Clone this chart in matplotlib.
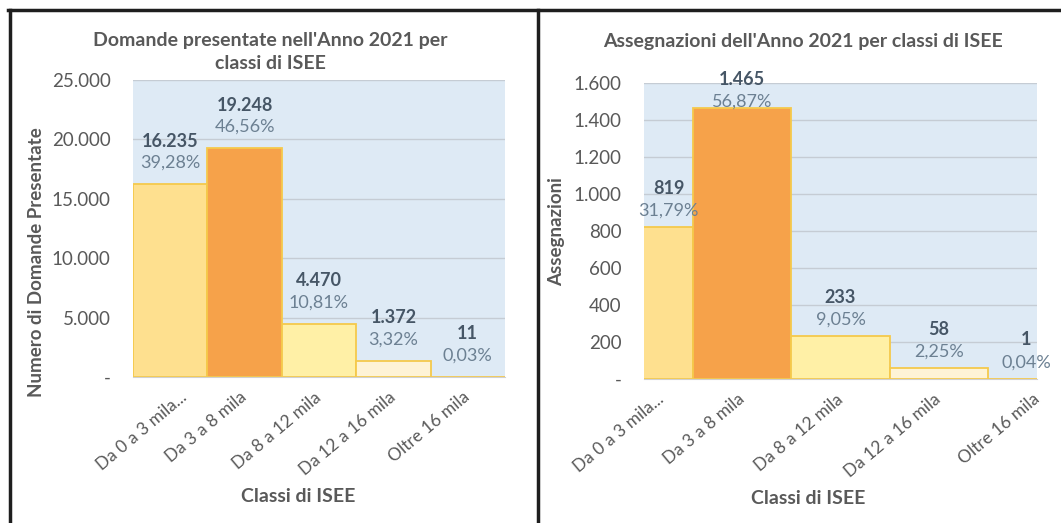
#!/usr/bin/env python3
"""
Domande e assegnazioni 2021 per classi di ISEE - due istogrammi affiancati
"""

import matplotlib
matplotlib.use("Agg")
import matplotlib.pyplot as plt
from matplotlib.lines import Line2D
import matplotlib.transforms as mtransforms

# --- data -------------------------------------------------------------
classes = ["Da 0 a 3 mila...", "Da 3 a 8 mila", "Da 8 a 12 mila",
           "Da 12 a 16 mila", "Oltre 16 mila"]

domande = [16235, 19248, 4470, 1372, 11]
domande_pct = ["39,28%", "46,56%", "10,81%", "3,32%", "0,03%"]

assegnazioni = [819, 1465, 233, 58, 1]
assegnazioni_pct = ["31,79%", "56,87%", "9,05%", "2,25%", "0,04%"]

bar_colors = ["#FEE08F", "#F6A24A", "#FFF0A6", "#FEF3D6", "#FEF3D6"]
edge_color = "#F5C94C"

W, H = 1061, 523
GRAY = "#595959"
VAL_COLOR = "#465666"
PCT_COLOR = "#6C8092"

plt.rcParams['font.family'] = ['Lato', 'DejaVu Sans']


def fmt_it(v):
    if v == 0:
        return "-"
    return f"{int(v):,}".replace(",", ".")


def px_axes(fig, x0, x1, y_top, y_bot):
    return fig.add_axes([x0 / W, (H - y_bot) / H, (x1 - x0) / W, (y_bot - y_top) / H])


def draw_panel(ax, values, pcts, ymax, ystep, xlim, val_off, pct_off, clamp, last_dx):
    ax.set_facecolor("#DEEAF5")
    ax.set_axisbelow(True)
    xs = list(range(len(values)))
    ax.bar(xs, values, width=1.0, color=bar_colors, edgecolor=edge_color,
           linewidth=1.3, zorder=2)
    ax.set_xlim(*xlim)
    ax.set_ylim(0, ymax)
    ticks = list(range(0, ymax + 1, ystep))
    ax.set_yticks(ticks)
    ax.set_yticklabels([fmt_it(t) for t in ticks])
    ax.yaxis.grid(True, color="#C5CCD4", linewidth=1)
    for s in ["top", "right", "left"]:
        ax.spines[s].set_visible(False)
    ax.spines["bottom"].set_color("#D0D0D0")
    ax.tick_params(axis="both", length=0, colors=GRAY)
    ax.tick_params(axis="y", pad=16, labelsize=13.5)

    ax.set_xticks(xs)
    ax.set_xticklabels(classes, rotation=40, ha="right",
                       rotation_mode="anchor", va="center")
    ax.tick_params(axis="x", pad=13, labelsize=12.5)

    # data labels centred on the visible part of each bar
    for i, (v, p) in enumerate(zip(values, pcts)):
        lo = max(i - 0.5, xlim[0])
        hi = min(i + 0.5, xlim[1])
        lx = (lo + hi) / 2
        dx = last_dx if i == len(values) - 1 else 0
        base = min(v, clamp * ymax)
        ax.annotate(fmt_it(v), (lx, base), xytext=(dx, val_off),
                    textcoords="offset points", ha="center", va="center",
                    fontsize=13, fontweight="bold", color=VAL_COLOR,
                    annotation_clip=False)
        ax.annotate(p, (lx, base), xytext=(dx, pct_off),
                    textcoords="offset points", ha="center", va="center",
                    fontsize=13, color=PCT_COLOR, annotation_clip=False)


fig = plt.figure(figsize=(W / 100, H / 100), dpi=100)

# left panel
ax1 = px_axes(fig, 133, 505, 80, 377)
draw_panel(ax1, domande, domande_pct, 25000, 5000, (-0.5, 4.5), 31, 15.5, 1.0, 0)
# right panel
ax2 = px_axes(fig, 644, 1037, 83, 379)
draw_panel(ax2, assegnazioni, assegnazioni_pct, 1600, 200, (0, 4), 28, 12, 0.88, 10)

# first category label is padded in the source, shift it a bit right
for ax, dx in [(ax1, 15), (ax2, 18)]:
    lab = ax.get_xticklabels()[0]
    lab.set_transform(lab.get_transform() +
                      mtransforms.ScaledTranslation(dx / 100, 0, fig.dpi_scale_trans))

# titles and axis titles placed in figure pixels
fig.text(270 / W, 1 - 52 / H, "Domande presentate nell'Anno 2021 per\nclassi di ISEE",
         ha="center", va="center", fontsize=14, fontweight="bold", color=GRAY,
         linespacing=1.45)
fig.text(803 / W, 1 - 42 / H, "Assegnazioni dell'Anno 2021 per classi di ISEE",
         ha="center", va="center", fontsize=14, fontweight="bold", color=GRAY)

fig.text(37 / W, 1 - 262 / H, "Numero di Domande Presentate", rotation=90,
         ha="center", va="center", fontsize=13.5, fontweight="bold", color=GRAY)
fig.text(557 / W, 1 - 232 / H, "Assegnazioni", rotation=90,
         ha="center", va="center", fontsize=13.5, fontweight="bold", color=GRAY)

fig.text(298 / W, 1 - 497 / H, "Classi di ISEE", ha="center", va="center",
         fontsize=14, fontweight="bold", color=GRAY)
fig.text(808 / W, 1 - 498 / H, "Classi di ISEE", ha="center", va="center",
         fontsize=14, fontweight="bold", color=GRAY)

# black frame lines of the original layout
frame = dict(color="#1E1E1E", linewidth=2.5, transform=fig.transFigure)
fig.add_artist(Line2D([8 / W, 1], [1 - 9.5 / H, 1 - 9.5 / H], **frame))
fig.add_artist(Line2D([9.5 / W, 9.5 / W], [0, 1 - 9.5 / H], **frame))
fig.add_artist(Line2D([538 / W, 538 / W], [0, 1 - 9.5 / H], **frame))

fig.savefig("out.png", dpi=100)
plt.close(fig)
